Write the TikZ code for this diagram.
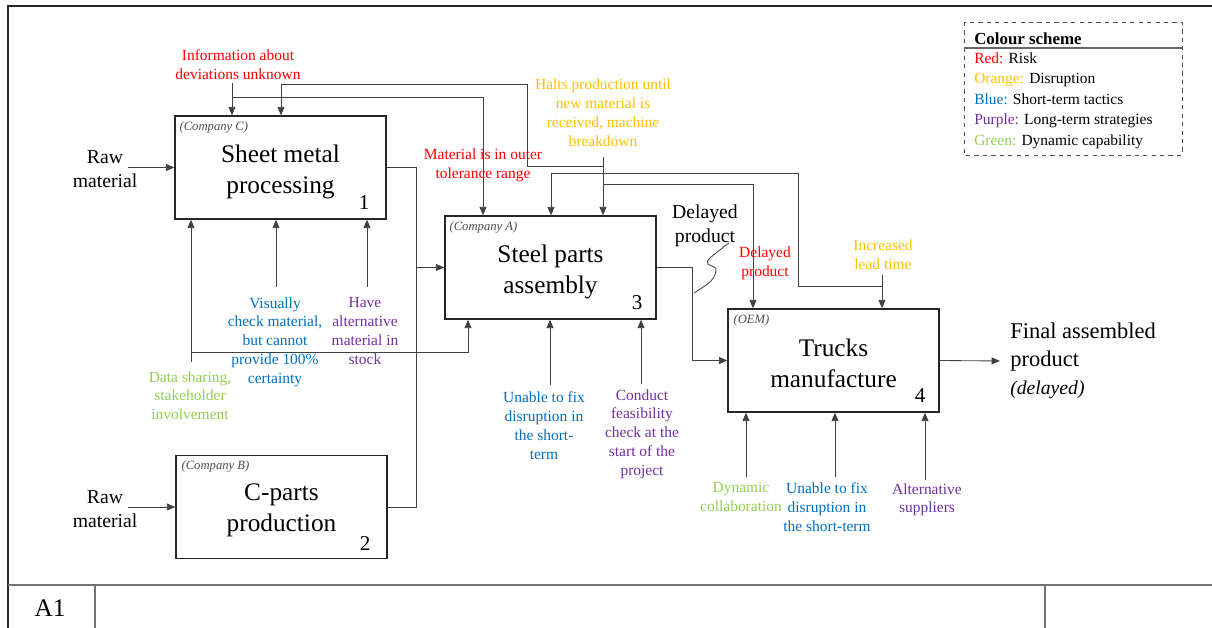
\documentclass[tikz,border=0pt]{standalone}
\usepackage{fontspec}
\setmainfont{Liberation Serif}
\usetikzlibrary{arrows.meta,positioning}

\definecolor{riskred}{RGB}{255,0,0}
\definecolor{disorange}{RGB}{255,192,0}
\definecolor{tacblue}{RGB}{0,112,192}
\definecolor{stratpurple}{RGB}{112,48,160}
\definecolor{dyngreen}{RGB}{146,208,80}

\tikzset{
  procbox/.style={draw=black!85, line width=1pt, minimum width=5.275cm, minimum height=2.575cm, inner sep=0pt},
  boxtext/.style={align=center, inner sep=0pt, font=\fontsize{18}{22}\selectfont},
  company/.style={anchor=north west, inner sep=0pt, text=black!70, font=\fontsize{9}{10}\selectfont\itshape},
  boxnum/.style={anchor=south east, inner sep=0pt, font=\fontsize{15}{16}\selectfont},
  note/.style={align=center, inner sep=0pt, font=\fontsize{11}{13.5}\selectfont},
  outtext/.style={align=center, inner sep=0pt, font=\fontsize{14}{17}\selectfont},
  flow/.style={draw=black!75, line width=0.6pt},
  tip/.style={-{Triangle[length=6pt,width=5pt]}},
}

\begin{document}
\begin{tikzpicture}[x=0.025cm, y=-0.025cm]
  \useasboundingbox (0,0) rectangle (1212,628);

  % Frame
  \draw[black!85, line width=0.9pt] (1212,6) -- (8,6) -- (8,628);
  \draw[black!55, line width=0.8pt] (8,585) -- (1212,585);
  \draw[black!55, line width=0.8pt] (95,585) -- (95,628);
  \draw[black!55, line width=0.8pt] (1045,585) -- (1045,628);
  \node[font=\fontsize{18}{20}\selectfont] (aone) at (50,608) {A1};

  % Activities
  \node[procbox] (smp) at (280.5,167.5) {};
  \node[procbox] (cpp) at (281.5,507) {};
  \node[procbox] (spa) at (550.5,267.5) {};
  \node[procbox] (tmf) at (833.5,360.5) {};

  \node[boxtext] (smptext) at ([shift={(0,4)}]smp.center) {Sheet metal\\processing};
  \node[boxtext] (cpptext) at ([shift={(0,3)}]cpp.center) {C-parts\\production};
  \node[boxtext] (spatext) at ([shift={(0,4)}]spa.center) {Steel parts\\assembly};
  \node[boxtext] (tmftext) at ([shift={(0,3)}]tmf.center) {Trucks\\manufacture};

  \node[company] at ([shift={(5,6)}]smp.north west) {(Company C)};
  \node[company] at ([shift={(6,6)}]cpp.north west) {(Company B)};
  \node[company] at ([shift={(5,6)}]spa.north west) {(Company A)};
  \node[company] at ([shift={(6,6)}]tmf.north west) {(OEM)};

  \node[boxnum] at ([shift={(-17,-10)}]smp.south east) {1};
  \node[boxnum] at ([shift={(-17,-8)}]cpp.south east) {2};
  \node[boxnum] at ([shift={(-14,-10)}]spa.south east) {3};
  \node[boxnum] at ([shift={(-14,-10)}]tmf.south east) {4};

  % Inputs and outputs
  \node[outtext] (raw1) at (105,169) {Raw\\material};
  \node[outtext] (raw2) at (105,509) {Raw\\material};
  \coordinate (rawin1) at (128,167.5);
  \coordinate (rawin2) at (128,507);
  \draw[flow,tip] (rawin1) -- (smp.west);
  \draw[flow,tip] (rawin2) -- (cpp.west);

  \coordinate (merge) at (416,267.5);
  \draw[flow] (smp.east) -| (merge);
  \draw[flow] (cpp.east) -| (merge);
  \draw[flow,tip] (merge) -- (spa.west);
  \draw[flow,tip] (spa.east) -- (692,267.5) |- (tmf.west);

  \node[align=left, anchor=west, inner sep=0pt, inner xsep=0.25cm, font=\fontsize{16}{20}\selectfont] (final) at (1000,361)
    {Final assembled\\product\\{\fontsize{14}{20}\selectfont\itshape (delayed)}};
  \draw[flow,tip] (tmf.east) -- (final.west);

  \node[outtext] (dlyd) at (705,226) {Delayed\\product};
  \draw[flow] plot[smooth, tension=0.55] coordinates {(729,243) (710,258) (708,264) (716,269) (711,281) (694,293)};

  % Controls (top)
  \node[note, text=riskred, anchor=south] (info) at (238,80) {Information about\\deviations unknown};
  \draw[flow,tip] (232,83) -- (smp.north -| 232,0);
  \draw[flow,tip] (232,97) -- (483,97) -- (spa.north -| 483,0);
  \node[note, text=riskred] (toler) at (483,165) {Material is in outer\\tolerance range};

  \node[note, text=disorange, anchor=south] (halts) at (603,147) {Halts production until\\new material is\\received, machine\\breakdown};
  \draw[flow,tip] (603,157) -- (spa.north -| 603,0);
  \draw[flow,tip] (603,166) -- (527,166) -- (527,84) -- (281,84) -- (smp.north -| 281,0);
  \draw[flow,tip] (603,184) -- (753,184) -- (tmf.north -| 753,0);
  \node[note, text=riskred] (dlyr) at (765,263) {Delayed\\product};

  \node[note, text=disorange, anchor=south] (lead) at (883,270) {Increased\\lead time};
  \draw[flow,tip] (882,275) -- (tmf.north -| 882,0);
  \draw[flow,tip] (882,286) -- (798,286) -- (798,173) -- (551,173) -- (spa.north -| 551,0);

  % Mechanisms (bottom)
  \node[note, text=dyngreen, anchor=north] (share) at (190,371) {Data sharing,\\stakeholder\\involvement};
  \draw[flow,tip] (191,362) -- (smp.south -| 191,0);
  \draw[flow,tip] (191,352) -- (468,352) -- (spa.south -| 468,0);
  \node[note, text=tacblue, anchor=north] (visual) at (275,297) {Visually\\check material,\\but cannot\\provide 100\%\\certainty};
  \draw[flow,tip] (276,287) -- (smp.south -| 276,0);
  \node[note, text=stratpurple, anchor=north] (stock) at (365,297) {Have\\alternative\\material in\\stock};
  \draw[flow,tip] (367,287) -- (smp.south -| 367,0);

  \node[note, text=tacblue, anchor=north] (fixa) at (544,391) {Unable to fix\\disruption in\\the short-\\term};
  \draw[flow,tip] (550,385) -- (spa.south -| 550,0);
  \node[note, text=stratpurple, anchor=north] (feas) at (642,389) {Conduct\\feasibility\\check at the\\start of the\\project};
  \draw[flow,tip] (641,384) -- (spa.south -| 641,0);

  \node[note, text=dyngreen, anchor=north] (collab) at (741,482) {Dynamic\\collaboration};
  \draw[flow,tip] (746,477) -- (tmf.south -| 746,0);
  \node[note, text=tacblue, anchor=north] (fixb) at (827,482) {Unable to fix\\disruption in\\the short-term};
  \draw[flow,tip] (835,477) -- (tmf.south -| 835,0);
  \node[note, text=stratpurple, anchor=north] (supp) at (927,483) {Alternative\\suppliers};
  \draw[flow,tip] (925,480) -- (tmf.south -| 925,0);

  % Colour scheme
  \draw[black!70, dashed, line width=0.7pt] (964,22) rectangle (1182,155);
  \draw[black!60, line width=0.8pt] (964,48) -- (1182,48);
  \node[anchor=west, inner sep=0pt, font=\fontsize{12}{14}\selectfont\bfseries] (legtitle) at (974,39) {Colour scheme};
  \node[anchor=north west, align=left, inner sep=0pt, font=\fontsize{11}{14.6}\selectfont] (legbody) at (974,52)
    {\textcolor{riskred}{Red:} Risk\\
     \textcolor{disorange}{Orange:} Disruption\\
     \textcolor{tacblue}{Blue:} Short-term tactics\\
     \textcolor{stratpurple}{Purple:} Long-term strategies\\
     \textcolor{dyngreen}{Green:} Dynamic capability};
\end{tikzpicture}
\end{document}
